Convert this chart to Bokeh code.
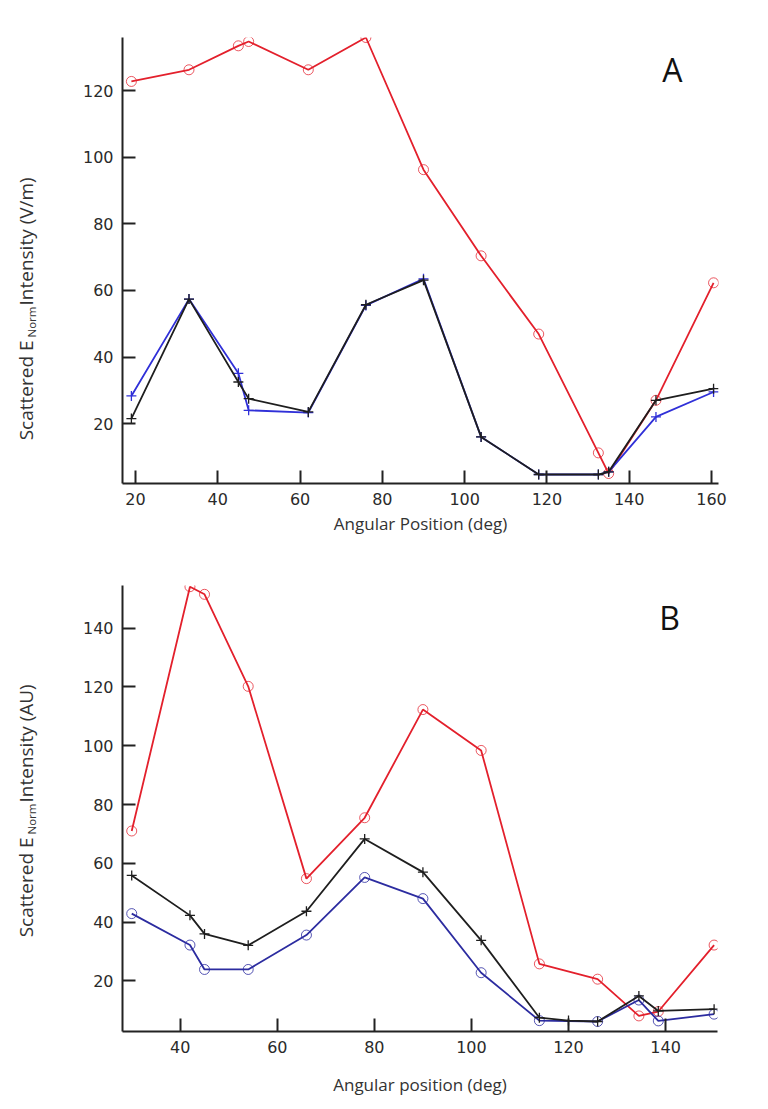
import math
from bokeh.plotting import figure
from bokeh.layouts import column, row
from bokeh.models import Label, FixedTicker, Range1d
from bokeh.embed import file_html
from bokeh.resources import INLINE
from bokeh.core.properties import value

# ---------------- Panel A data ----------------
a_x = [19, 33, 45, 47.5, 62, 76, 90, 104, 118, 132.5, 135, 146.5, 160.5]
a_red = [122.8, 126.3, 133.5, 134.8, 126.3, 136.0, 96.3, 70.4, 46.9, 11.2, 5.0, 27.0, 62.3]
a_black = [21.5, 57.4, 32.5, 27.5, 23.5, 55.7, 63.1, 16.0, 4.7, 4.7, 5.5, 27.0, 30.5]
a_blue = [28.3, 57.4, 35.1, 24.0, 23.3, 55.5, 63.5, 16.0, 4.7, 4.7, 5.5, 22.0, 29.5]
a_xticks = [20, 40, 60, 80, 100, 120, 140, 160]
a_yticks = [20, 40, 60, 80, 100, 120]

# ---------------- Panel B data ----------------
b_x_red = [30, 42, 45, 54, 66, 78, 90, 102, 114, 126, 134.5, 138.5, 150]
b_red = [71.0, 154.1, 151.5, 120.2, 54.8, 75.5, 112.3, 98.4, 25.8, 20.6, 8.1, 9.6, 32.2]
b_x_black = [30, 42, 45, 54, 66, 78, 90, 102, 114, 120, 126, 134.5, 138.5, 150]
b_black = [55.9, 42.3, 36.0, 32.1, 43.7, 68.3, 57.0, 33.8, 7.5, 6.5, 6.2, 14.9, 9.8, 10.4]
b_x_blue = [30, 42, 45, 54, 66, 78, 90, 102, 114, 126, 134.5, 138.5, 150]
b_blue = [42.9, 32.2, 23.9, 23.9, 35.6, 55.2, 48.0, 22.8, 6.5, 6.2, 13.5, 6.4, 8.7]
b_xticks = [40, 60, 80, 100, 120, 140]
b_yticks = [20, 40, 60, 80, 100, 120, 140]

ylabel_A = ["Scattered E", "Norm", "Intensity (V/m)"]
ylabel_B = ["Scattered E", "Norm", "Intensity (AU)"]

RED = "#e3202c"
BLUE_A = "#3030d8"
BLUE_B = "#2c2ca0"
BLACK = "#1e1e1e"
AX = "#222222"
LABW = 40   # width of the strip that carries the vertical axis title
FH = 446    # frame height of both panels


def make_fig(xr, yr, fw, top, bottom, right, xticks, yticks, xlabel, xlab_standoff):
    p = figure(frame_width=fw, frame_height=FH, min_border_left=122 - LABW,
               min_border_right=right, min_border_top=top, min_border_bottom=bottom,
               x_range=Range1d(*xr), y_range=Range1d(*yr),
               output_backend="svg", toolbar_location=None,
               background_fill_color="white", border_fill_color="white")
    p.outline_line_color = None
    p.xgrid.grid_line_color = None
    p.ygrid.grid_line_color = None
    p.xaxis.ticker = FixedTicker(ticks=xticks)
    p.yaxis.ticker = FixedTicker(ticks=yticks)
    for ax in (p.xaxis[0], p.yaxis[0]):
        ax.axis_line_width = 2
        ax.axis_line_color = AX
        ax.major_tick_in = 13
        ax.major_tick_out = 0
        ax.major_tick_line_width = 2
        ax.major_tick_line_color = AX
        ax.minor_tick_line_color = None
        ax.major_label_text_font = "DejaVu Sans"
        ax.major_label_text_font_size = "16px"
        ax.major_label_text_color = "#2a2a2a"
        ax.major_label_standoff = 9
    p.xaxis.axis_label = xlabel
    p.xaxis.axis_label_text_font = "Open Sans"
    p.xaxis.axis_label_text_font_size = "17px"
    p.xaxis.axis_label_text_font_style = "normal"
    p.xaxis.axis_label_text_color = "#333333"
    p.xaxis.axis_label_standoff = xlab_standoff
    return p


def label_strip(top, bottom, parts, y_end, y_sub, y_start):
    """Narrow strip left of a panel carrying the rotated title with a subscript.
    Its frame matches the panel frame; y is expressed as pixels from the top
    of the figure (inverted range)."""
    s = figure(frame_width=LABW, frame_height=FH, min_border_left=0, min_border_right=0,
               min_border_top=top, min_border_bottom=bottom,
               x_range=Range1d(0, LABW), y_range=Range1d(top + FH, top),
               x_axis_location=None, y_axis_location=None,
               output_backend="svg", toolbar_location=None,
               background_fill_color="white", border_fill_color="white")
    s.outline_line_color = None
    s.xgrid.grid_line_color = None
    s.ygrid.grid_line_color = None
    common = dict(angle=math.pi / 2, text_baseline="middle",
                  text_font=value("Open Sans"), text_color="#333333")
    s.text(x=[25], y=[y_end], text=[parts[0]], text_align="right",
           text_font_size="19px", **common)
    s.text(x=[31], y=[y_sub], text=[parts[1]], text_align="left",
           text_font_size="11.5px", **common)
    s.text(x=[25], y=[y_start], text=[parts[2]], text_align="left",
           text_font_size="19px", **common)
    return s


# ---------------- Figure A ----------------
HA = 545
TA, BA = 37, HA - 37 - FH
xrA, yrA = (16.84, 161.7), (2.0, 136.0)
pA = make_fig(xrA, yrA, 596, TA, BA, 50, a_xticks, a_yticks,
              "Angular Position (deg)", 4)
pA.line(a_x, a_red, line_color=RED, line_width=1.8)
pA.scatter(a_x, a_red, marker="circle", size=10, fill_color=None,
           line_color=RED, line_width=1, line_alpha=0.75)
pA.line(a_x, a_blue, line_color=BLUE_A, line_width=1.8)
pA.scatter(a_x, a_blue, marker="cross", size=10, line_color=BLUE_A, line_width=1.3)
pA.line(a_x, a_black, line_color=BLACK, line_width=1.8)
pA.scatter(a_x, a_black, marker="cross", size=10, line_color=BLACK, line_width=1.3)
pA.add_layout(Label(x=150.5, y=yrA[0] + (TA + FH - 69) * (yrA[1] - yrA[0]) / FH,
                    text="A", text_align="center", text_baseline="middle",
                    text_font="Open Sans", text_font_size="32px", text_color="#111111"))
sA = label_strip(TA, BA, ylabel_A, 340, 337, 305)

# ---------------- Figure B ----------------
HB = 1109 - HA
TB, BB = 40, HB - 40 - FH
xrB, yrB = (28.1, 150.7), (2.8, 154.5)
pB = make_fig(xrB, yrB, 595, TB, BB, 51, b_xticks, b_yticks,
              "Angular position (deg)", 17)
pB.line(b_x_red, b_red, line_color=RED, line_width=1.8)
pB.scatter(b_x_red, b_red, marker="circle", size=10, fill_color=None,
           line_color=RED, line_width=1, line_alpha=0.75)
pB.line(b_x_blue, b_blue, line_color=BLUE_B, line_width=1.8)
pB.scatter(b_x_blue, b_blue, marker="circle", size=10, fill_color=None,
           line_color=BLUE_B, line_width=1, line_alpha=0.8)
pB.line(b_x_black, b_black, line_color=BLACK, line_width=1.8)
pB.scatter(b_x_black, b_black, marker="cross", size=10, line_color=BLACK, line_width=1.3)
pB.add_layout(Label(x=xrB[0] + (669 - 122) * (xrB[1] - xrB[0]) / 595,
                    y=yrB[0] + (TB + FH - (617 - HA)) * (yrB[1] - yrB[0]) / FH,
                    text="B", text_align="center", text_baseline="middle",
                    text_font="Open Sans", text_font_size="32px", text_color="#111111"))
sB = label_strip(TB, BB, ylabel_B, 837 - HA, 834 - HA, 802 - HA)

layout = column(row(sA, pA, spacing=0), row(sB, pB, spacing=0), spacing=0)
open("out.html", "w").write(file_html(layout, INLINE))
